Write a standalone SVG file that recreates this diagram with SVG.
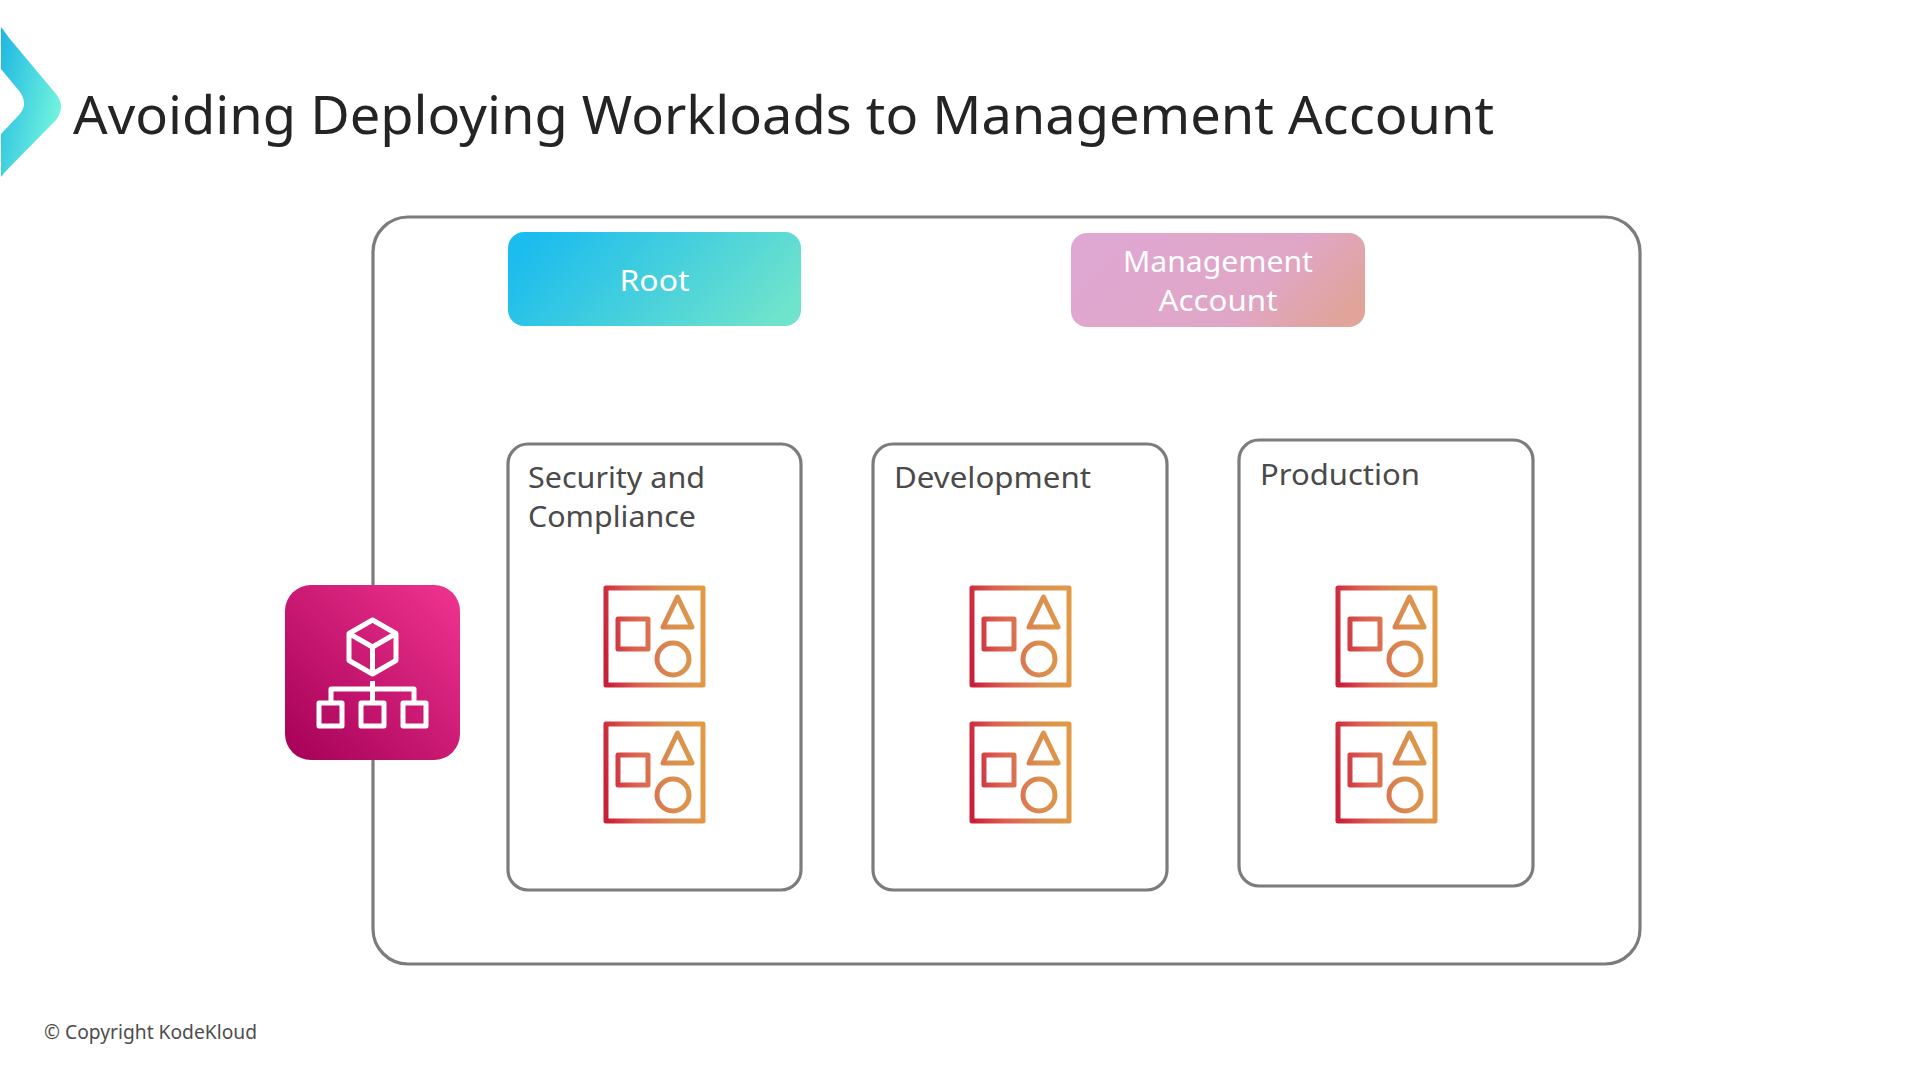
<svg xmlns="http://www.w3.org/2000/svg" xmlns:xlink="http://www.w3.org/1999/xlink" width="1920" height="1080" viewBox="0 0 1920 1080">
<style>
text{font-family:"Noto Sans","Open Sans","Liberation Sans",sans-serif}
.frame{fill:none;stroke:#7c7c7c;stroke-width:3.2}
.title{font-size:53px;fill:#242424}
.lab{font-size:29px;fill:#4a4a4a}
.pill{font-size:29px;fill:#fff}
.foot{font-size:19px;fill:#4d4d4d}
.ic{fill:none;stroke:url(#ig);stroke-width:5;stroke-linejoin:round}
.w{fill:none;stroke:#fff;stroke-width:5;stroke-linejoin:round}
</style>
<defs>
<linearGradient id="chev" x1="0" y1="0.1" x2="1" y2="0.65"><stop offset="0" stop-color="#20b9e2"/><stop offset="1" stop-color="#76f6dd"/></linearGradient>
<linearGradient id="rg" x1="0" y1="0.35" x2="1" y2="0.65"><stop offset="0" stop-color="#1bbcee"/><stop offset="1" stop-color="#6fe3cc"/></linearGradient>
<linearGradient id="mg" x1="0" y1="0.35" x2="1" y2="0.65"><stop offset="0" stop-color="#dfa8d3"/><stop offset="0.65" stop-color="#e0a6c6"/><stop offset="1" stop-color="#e0a49a"/></linearGradient>
<linearGradient id="pg" x1="0" y1="1" x2="1" y2="0"><stop offset="0" stop-color="#a50057"/><stop offset="1" stop-color="#f0348f"/></linearGradient>
<linearGradient id="ig" gradientUnits="userSpaceOnUse" x1="0" y1="55" x2="99" y2="45"><stop offset="0" stop-color="#c9203a"/><stop offset="0.3" stop-color="#dc5f50"/><stop offset="0.7" stop-color="#d98f50"/><stop offset="1" stop-color="#e09a45"/></linearGradient>
<g id="wl">
<rect class="ic" x="2" y="2" width="97" height="97"/>
<rect class="ic" x="14" y="33" width="30" height="30"/>
<path class="ic" d="M73.5 11 L88 41 H59 Z"/>
<circle class="ic" cx="69" cy="73" r="16"/>
</g>
</defs>
<g id="logo"><path fill="url(#chev)" d="M1 27 C3 29 6 34 10 39 L56 94 Q66 106 56 120 L5 172 Q3 175 1 177 V134 L18 116 Q29 105 20 92 L1 69 Z"/></g>
<text id="title" class="title" x="73" y="134" textLength="1421" lengthAdjust="spacingAndGlyphs">Avoiding Deploying Workloads to Management Account</text>
<g id="container"><rect class="frame" x="373" y="217" width="1267" height="747" rx="35"/></g>
<g id="root"><rect x="508" y="232" width="293" height="94" rx="16" fill="url(#rg)"/><text class="pill" x="654.5" y="291" text-anchor="middle" textLength="70" lengthAdjust="spacingAndGlyphs">Root</text></g>
<g id="management"><rect x="1071" y="233" width="294" height="94" rx="16" fill="url(#mg)"/><text class="pill" x="1218" y="272" text-anchor="middle" textLength="190" lengthAdjust="spacingAndGlyphs">Management</text><text class="pill" x="1218" y="311" text-anchor="middle" textLength="119" lengthAdjust="spacingAndGlyphs">Account</text></g>
<g id="security"><rect class="frame" x="508" y="444" width="293" height="446" rx="20"/><text class="lab" x="528" y="488" textLength="177" lengthAdjust="spacingAndGlyphs">Security and</text><text class="lab" x="528" y="527" textLength="168" lengthAdjust="spacingAndGlyphs">Compliance</text><use xlink:href="#wl" href="#wl" transform="translate(604,586)"/><use xlink:href="#wl" href="#wl" transform="translate(604,722)"/></g>
<g id="development"><rect class="frame" x="873" y="444" width="294" height="446" rx="20"/><text class="lab" x="894" y="488" textLength="197" lengthAdjust="spacingAndGlyphs">Development</text><use xlink:href="#wl" href="#wl" transform="translate(970,586)"/><use xlink:href="#wl" href="#wl" transform="translate(970,722)"/></g>
<g id="production"><rect class="frame" x="1239" y="440" width="294" height="446" rx="20"/><text class="lab" x="1260" y="485" textLength="160" lengthAdjust="spacingAndGlyphs">Production</text><use xlink:href="#wl" href="#wl" transform="translate(1336,586)"/><use xlink:href="#wl" href="#wl" transform="translate(1336,722)"/></g>
<g id="organizations"><rect x="285" y="585" width="175" height="175" rx="26" fill="url(#pg)"/>
<path class="w" d="M372.5 620 L396 633.5 V660.5 L372.5 674 L349 660.5 V633.5 Z M349 633.5 L372.5 647 L396 633.5 M372.5 647 V674"/>
<path class="w" d="M372.5 681 V704 M331 704 V689 H414 V704"/>
<rect class="w" x="319" y="703" width="23" height="23"/><rect class="w" x="361" y="703" width="23" height="23"/><rect class="w" x="403" y="703" width="23" height="23"/></g>
<text id="copyright" class="foot" x="44" y="1039" textLength="213" lengthAdjust="spacingAndGlyphs">© Copyright KodeKloud</text>
</svg>
